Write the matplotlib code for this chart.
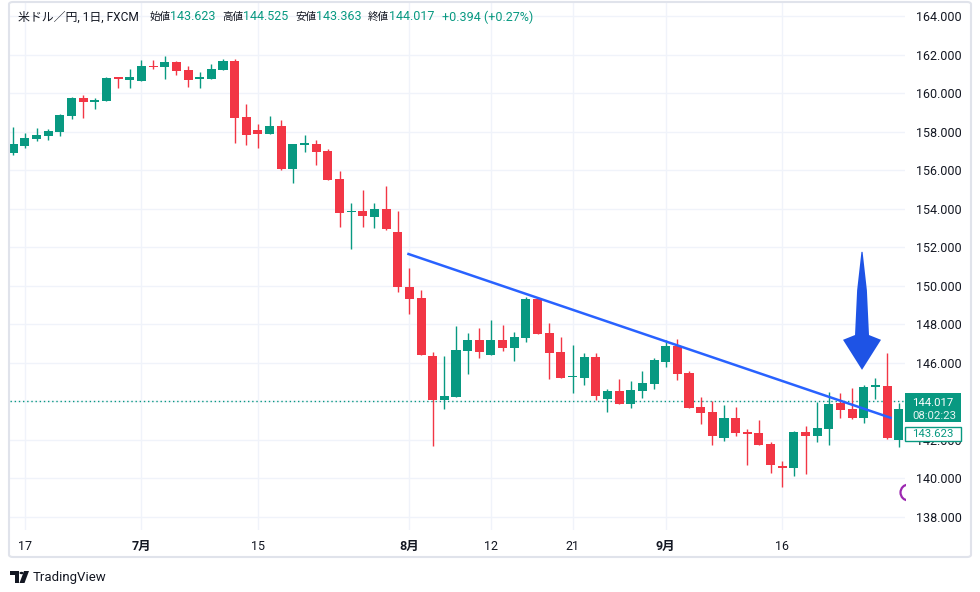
import matplotlib
matplotlib.use("Agg")
import pandas as pd
from matplotlib import pyplot as plt
from matplotlib.patches import Polygon, Rectangle, FancyBboxPatch, Circle

plt.rcParams["font.family"] = ["Roboto", "Noto Sans CJK JP", "DejaVu Sans"]

# daily USD/JPY bars (FXCM), 2024-06-14 .. 2024-09-30
dates = pd.bdate_range("2024-06-14", "2024-09-30")
opens = [
    156.93, 157.27, 157.64, 157.79, 158.00, 158.83, 159.77, 159.56, 159.61, 160.81,
    160.70, 160.65, 161.43, 161.38, 161.64, 161.22, 160.76, 160.75, 161.22, 161.69,
    158.78, 158.10, 157.90, 158.31, 156.08, 157.34, 157.38, 157.01, 155.56, 153.82,
    153.90, 153.58, 154.00, 152.78, 149.97, 149.37, 146.35, 144.09, 144.24, 146.63,
    147.19, 146.42, 147.19, 146.79, 147.31, 149.32, 147.55, 146.56, 145.26, 145.23,
    146.30, 144.14, 144.54, 143.89, 144.56, 144.91, 146.05, 146.88, 145.48, 143.71,
    143.45, 142.10, 143.14, 142.42, 142.36, 141.79, 140.65, 140.55, 142.42, 142.21,
    142.57, 143.92, 143.61, 143.14, 144.76, 144.81, 142.00,
]
highs = [
    158.26, 157.95, 158.21, 158.16, 158.94, 159.82, 159.92, 159.77, 160.86, 160.81,
    161.27, 161.74, 161.74, 161.95, 161.69, 161.43, 161.12, 161.53, 161.79, 161.79,
    159.45, 158.42, 158.83, 158.62, 157.38, 157.84, 157.58, 157.12, 155.97, 154.31,
    154.99, 154.31, 155.19, 153.90, 150.91, 149.78, 146.55, 146.35, 147.91, 147.55,
    147.81, 148.23, 147.97, 147.60, 149.42, 149.42, 148.07, 147.34, 146.93, 146.51,
    146.51, 144.66, 145.16, 145.06, 145.58, 146.26, 147.19, 147.25, 145.58, 144.23,
    144.03, 143.82, 143.71, 142.57, 143.04, 141.90, 140.91, 142.47, 142.73, 143.97,
    144.49, 144.44, 144.70, 144.86, 145.22, 146.52, 143.92,
]
lows = [
    156.80, 157.17, 157.53, 157.58, 157.79, 158.68, 158.73, 159.19, 159.61, 160.29,
    160.29, 160.65, 161.27, 160.75, 160.96, 160.34, 160.29, 160.75, 161.22, 157.43,
    157.32, 157.17, 157.90, 156.03, 155.35, 156.96, 156.29, 155.51, 153.06, 151.92,
    153.06, 153.01, 152.90, 149.66, 148.55, 146.42, 141.70, 143.62, 144.24, 145.44,
    146.27, 146.42, 146.63, 146.11, 147.10, 147.52, 145.18, 145.23, 144.45, 144.87,
    144.09, 143.46, 143.89, 143.66, 144.20, 144.65, 145.79, 145.12, 143.66, 142.83,
    141.74, 141.95, 142.21, 140.70, 141.74, 140.29, 139.56, 140.10, 140.21, 141.90,
    141.74, 143.14, 143.09, 142.88, 144.13, 142.05, 141.64,
]
closes = [
    157.38, 157.69, 157.84, 158.05, 158.88, 159.77, 159.56, 159.66, 160.81, 160.76,
    160.86, 161.43, 161.38, 161.64, 161.17, 160.70, 160.82, 161.27, 161.69, 158.73,
    157.84, 157.90, 158.31, 156.08, 157.38, 157.40, 156.96, 155.51, 153.79, 153.88,
    153.64, 154.00, 152.96, 149.96, 149.33, 146.42, 144.09, 144.28, 146.67, 147.19,
    146.58, 147.19, 146.79, 147.34, 149.32, 147.52, 146.53, 145.23, 145.30, 146.30,
    144.29, 144.52, 143.89, 144.60, 144.96, 146.16, 146.88, 145.45, 143.66, 143.40,
    142.21, 143.14, 142.36, 142.31, 141.74, 140.70, 140.56, 142.42, 142.21, 142.62,
    143.87, 143.56, 143.14, 144.75, 144.80, 142.10, 143.61,
]

tick_dates = ["2024-06-17", "2024-07-01", "2024-07-15", "2024-08-01",
              "2024-08-12", "2024-08-21", "2024-09-02", "2024-09-16"]
tick_labels = ["17", "7月", "15", "8月", "12", "21", "9月", "16"]
price_ticks = list(range(138, 166, 2))
hidden_ticks = [144]  # sits under the live price label

# header / live quote
last_open, last_high, last_low, last_close = 143.623, 144.525, 143.363, 144.017
change, change_pct = 0.394, 0.27
countdown = "08:02:23"

# hand drawn objects: trend line and arrow marker (bar index, price)
trend_start = (33.82, 151.68)
trend_end = (75.4, 143.13)
arrow_x = 72.85
arrow_top, arrow_wing, arrow_tip = 151.77, 147.20, 145.64

UP = "#089981"
DOWN = "#f23645"
TEXT = "#131722"
GRID = "#f0f3fa"
W, H = 980, 592


def fx(x):
    return x / W


def fy(y):
    return 1 - y / H


fig = plt.figure(figsize=(W / 100, H / 100), dpi=100)
ax = fig.add_axes([fx(10), fy(530), fx(905) - fx(10), fy(3) - fy(530)])

idx = list(range(len(dates)))
colors = [UP if c >= o else DOWN for o, c in zip(opens, closes)]
bottoms = [min(o, c) for o, c in zip(opens, closes)]
heights = [max(abs(c - o), 0.07) for o, c in zip(opens, closes)]
ax.vlines(idx, lows, highs, colors=colors, lw=1.0, zorder=3)
ax.bar(idx, heights, bottom=bottoms, width=0.78, color=colors, linewidth=0, zorder=4)

ax.axhline(last_close, color=UP, lw=1.0, ls=(0, (1, 2)), zorder=2)

ax.plot([trend_start[0], trend_end[0]], [trend_start[1], trend_end[1]],
        color="#2962ff", lw=1.8, solid_capstyle="butt", zorder=5)

# arrow marker, widths given in bar units (1 bar ~ 11.65 px)
pts = [
    (arrow_x - 0.05, arrow_top), (arrow_x + 0.05, arrow_top),
    (arrow_x + 0.42, arrow_top - 2.0), (arrow_x + 0.6, arrow_wing + 0.25),
    (arrow_x + 1.63, arrow_wing), (arrow_x, arrow_tip),
    (arrow_x - 1.63, arrow_wing), (arrow_x - 0.6, arrow_wing + 0.25),
    (arrow_x - 0.42, arrow_top - 2.0),
]
ax.add_patch(Polygon(pts, closed=True, facecolor="#1e53e5", edgecolor="none", zorder=6))

# events marker peeking out at the right edge
ax.plot([76.8], [139.3], marker="o", ms=11.5, mfc="none", mec="#9c27b0", mew=1.6,
        clip_on=True, zorder=6)

ax.set_xlim(-0.283, 76.54)
ax.set_ylim(137.32, 164.70)

tick_pos = dates.get_indexer(pd.to_datetime(tick_dates))
ax.set_xticks(tick_pos)
ax.set_xticklabels(tick_labels)
for lab in ax.get_xticklabels():
    if lab.get_text().endswith("月"):
        lab.set_fontweight("bold")
ax.set_yticks(price_ticks)
ax.set_yticklabels(["" if p in hidden_ticks else f"{p:.3f}" for p in price_ticks])
ax.yaxis.tick_right()
ax.tick_params(axis="both", length=0, labelsize=9, labelcolor=TEXT)
ax.tick_params(axis="x", pad=7)
ax.tick_params(axis="y", pad=8)
ax.grid(True, color=GRID, lw=1.0, zorder=0)
ax.set_axisbelow(True)
for s in ax.spines.values():
    s.set_visible(False)

# outer frame
fig.add_artist(FancyBboxPatch((fx(9), fy(557)), fx(971) - fx(9), fy(2) - fy(557),
                              boxstyle="round,pad=0,rounding_size=0.004",
                              transform=fig.transFigure, facecolor="none",
                              edgecolor="#e0e3eb", lw=1.5, zorder=1))

# price labels on the axis
fig.add_artist(Rectangle((fx(905), fy(422)), fx(961) - fx(905), fy(393) - fy(422),
                         transform=fig.transFigure, facecolor=UP, edgecolor="none", zorder=2))
fig.add_artist(Rectangle((fx(905), fy(441)), fx(961) - fx(905), fy(427) - fy(441),
                         transform=fig.transFigure, facecolor="white", edgecolor=UP,
                         lw=1.0, zorder=2))
bs = 8.2
fig.text(fx(912), fy(403), f"{last_close:.3f}", color="white", fontsize=bs, va="center")
fig.text(fx(912), fy(416), countdown, color="#e6f5f2", fontsize=bs, va="center")
fig.text(fx(912), fy(434), f"{last_open:.3f}", color=UP, fontsize=bs, va="center")

# header
hy = fy(17)
hs = 9
fig.text(fx(18), hy, "米ドル／円, 1日, FXCM", color=TEXT, fontsize=8.6, va="center")
for x0, name, val in [(149, "始値", last_open), (222, "高値", last_high),
                      (295, "安値", last_low), (368, "終値", last_close)]:
    fig.text(fx(x0), hy, name, color=TEXT, fontsize=7.6, va="center")
    fig.text(fx(x0 + 21), hy, f"{val:.3f}", color=UP, fontsize=hs, va="center")
fig.text(fx(442), hy, f"+{change:.3f} (+{change_pct:.2f}%)", color=UP, fontsize=hs, va="center")

# TradingView logo
logo = [
    Rectangle((fx(10), fy(575)), fx(9), 4 / H),
    Rectangle((fx(14.5), fy(583)), fx(4.5), 12 / H),
    Polygon([(fx(24), fy(571)), (fx(29), fy(571)), (fx(24.5), fy(583)), (fx(19.5), fy(583))]),
]
for p in logo:
    p.set_transform(fig.transFigure)
    p.set_facecolor(TEXT)
    p.set_edgecolor("none")
    fig.add_artist(p)
fig.add_artist(Circle((fx(21.5), fy(573)), 2 / W, transform=fig.transFigure,
                      facecolor=TEXT, edgecolor="none"))
fig.text(fx(33), fy(577), "TradingView", color=TEXT, fontsize=9.5, va="center")

fig.savefig("out.png", dpi=100, facecolor="white")
